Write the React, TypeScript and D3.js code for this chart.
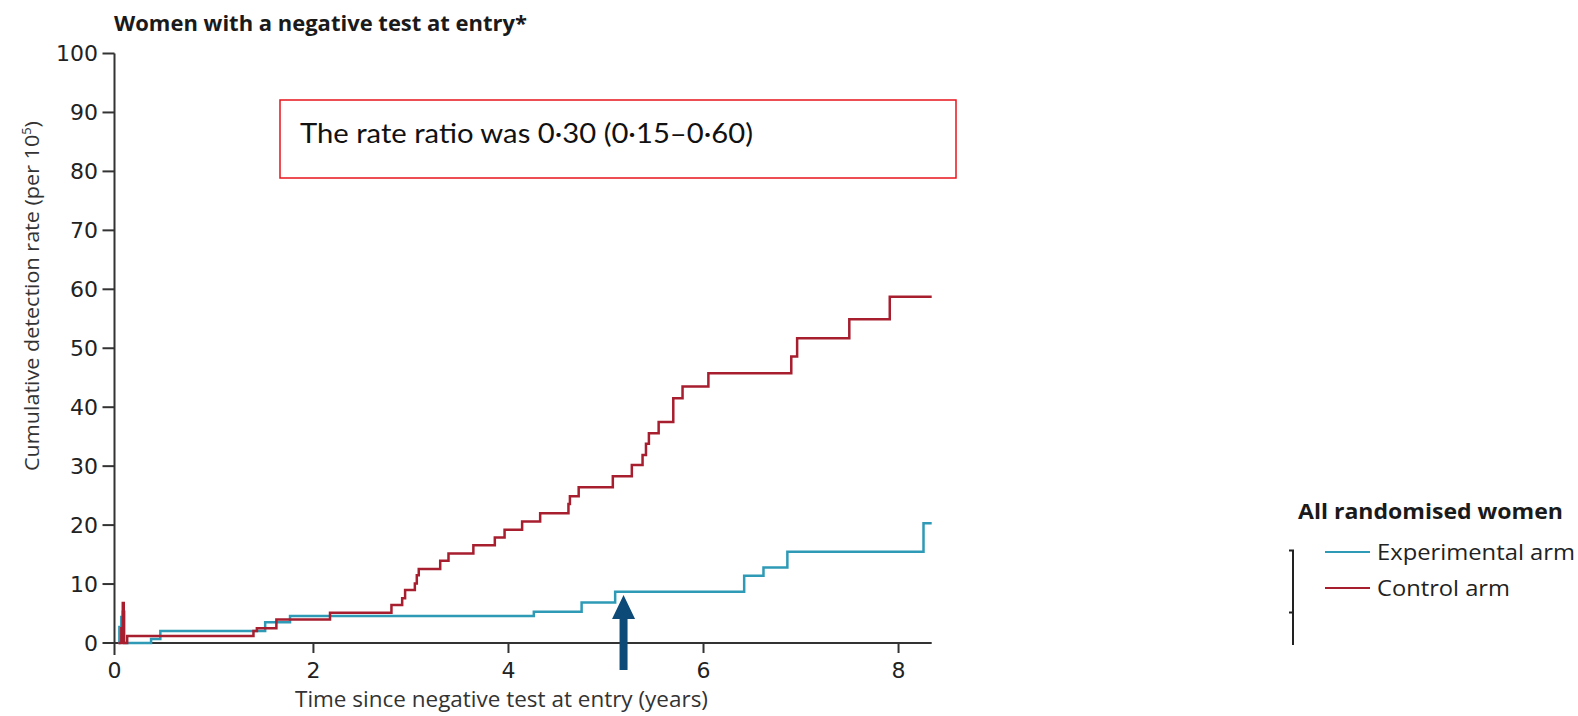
import React from 'react';
import * as d3 from 'd3';

// step curves: time (years) / cumulative rate per 10^5
const expTimes = [0, 0.01, 0.03, 0.045, 0.06, 0.335, 0.43, 1.505, 1.76, 4.26, 4.75, 5.094, 6.417, 6.615, 6.86, 8.256, 8.34];
const expValues = [0, 2.7, 4.4, 5.3, 0, 0.68, 2.04, 3.5, 4.6, 5.3, 6.85, 8.7, 11.4, 12.8, 15.5, 20.3, 20.3];

const ctrlTimes = [0, 0.03, 0.045, 0.055, 0.09, 1.385, 1.42, 1.62, 2.17, 2.8, 2.91, 2.94, 3.04, 3.06, 3.08, 3.3, 3.385, 3.64, 3.86, 3.96, 4.14, 4.325, 4.615, 4.63, 4.72, 5.07, 5.265, 5.375, 5.41, 5.44, 5.54, 5.69, 5.785, 6.05, 6.9, 6.96, 7.495, 7.91, 8.34];
const ctrlValues = [0, 2.5, 6.8, 0, 1.2, 2.04, 2.5, 4.0, 5.15, 6.45, 7.6, 9.0, 10.1, 11.5, 12.55, 13.96, 15.2, 16.6, 17.9, 19.2, 20.6, 22.0, 23.6, 24.9, 26.4, 28.3, 30.2, 31.9, 33.8, 35.6, 37.5, 41.5, 43.5, 45.75, 48.6, 51.7, 54.9, 58.75, 58.75];

const yTicks = [0, 10, 20, 30, 40, 50, 60, 70, 80, 90, 100];
const xTicks = [0, 2, 4, 6, 8];
const arrowAt = 5.18; // arrow marking the 5-year point

const seriesNames = ['Experimental arm', 'Control arm'];
const colors = ['#2e9ab6', '#a71e2e'];

const W = 1578;
const H = 716;

export default function App() {
  const x = d3.scaleLinear().domain([-0.04, 8.34]).range([114.5, 931.7]);
  const y = d3.scaleLinear().domain([0, 100]).range([643, 53.5]);

  const line = d3
    .line<[number, number]>()
    .x(d => x(d[0]))
    .y(d => y(d[1]))
    .curve(d3.curveStepAfter);

  const exp = expTimes.map((t, i) => [t, expValues[i]] as [number, number]);
  const ctrl = ctrlTimes.map((t, i) => [t, ctrlValues[i]] as [number, number]);

  const axisX = x.range()[0];
  const font = "'DejaVu Sans', sans-serif";
  const labelFont = "'Open Sans', sans-serif";
  const ax = x(arrowAt);

  return (
    <svg width={W} height={H} style={{position: 'absolute', left: 0, top: 0, background: '#fff'}} fontFamily={font}>
      <text x={114} y={31} fontSize={22} fontWeight={700} fill="#1a1a1a" fontFamily={labelFont}
        textLength={413} lengthAdjust="spacingAndGlyphs">
        Women with a negative test at entry*
      </text>

      {/* y axis */}
      <line x1={axisX} x2={axisX} y1={y(100)} y2={655} stroke="#333" strokeWidth={2} />
      {yTicks.map(t => (
        <g key={t}>
          <line x1={axisX - 12} x2={axisX} y1={y(t)} y2={y(t)} stroke="#333" strokeWidth={2} />
          <text x={98} y={y(t)} dy="0.36em" textAnchor="end" fontSize={22} fill="#222">
            {t}
          </text>
        </g>
      ))}
      <text transform="translate(39,296) rotate(-90)" textAnchor="middle" fontSize={20} fill="#333"
        fontFamily={labelFont} textLength={350} lengthAdjust="spacingAndGlyphs">
        Cumulative detection rate (per 10<tspan fontSize={12} dy={-8}>5</tspan><tspan dy={8}>)</tspan>
      </text>

      {/* x axis */}
      <line x1={axisX} x2={x.range()[1]} y1={y(0)} y2={y(0)} stroke="#333" strokeWidth={2} />
      {xTicks.map(t => (
        <g key={t}>
          {t > 0 && <line x1={x(t)} x2={x(t)} y1={y(0)} y2={y(0) + 10} stroke="#333" strokeWidth={2} />}
          <text x={t === 0 ? axisX : x(t)} y={678} textAnchor="middle" fontSize={22} fill="#222">
            {t}
          </text>
        </g>
      ))}
      <text x={295} y={707} fontSize={21} fill="#333" fontFamily={labelFont}
        textLength={413} lengthAdjust="spacingAndGlyphs">
        Time since negative test at entry (years)
      </text>

      {/* curves */}
      <path d={line(exp) || ''} fill="none" stroke={colors[0]} strokeWidth={2.5} />
      <path d={line(ctrl) || ''} fill="none" stroke={colors[1]} strokeWidth={2.5} />

      {/* annotation box */}
      <rect x={280} y={100} width={676} height={78} fill="none" stroke="#e8141b" strokeWidth={1.5} />
      <text x={300} y={143} fontSize={26} fill="#111" fontFamily="Lato, sans-serif"
        textLength={453} lengthAdjust="spacingAndGlyphs">
        The rate ratio was 0·30 (0·15–0·60)
      </text>

      {/* arrow */}
      <path
        d={`M${ax},595 L${ax + 11.5},619 L${ax + 4},619 L${ax + 4},670 L${ax - 4},670 L${ax - 4},619 L${ax - 11.5},619 Z`}
        fill="#0d4a78"
      />

      {/* legend */}
      <text x={1298} y={519} fontSize={21} fontWeight={700} fill="#1a1a1a" fontFamily={labelFont}
        textLength={265} lengthAdjust="spacingAndGlyphs">
        All randomised women
      </text>
      <path d="M1289,550.5 H1293 V645 M1289,612.5 H1293" fill="none" stroke="#222" strokeWidth={2} />
      {seriesNames.map((n, i) => (
        <g key={n}>
          <line x1={1325} x2={1370} y1={552 + i * 36} y2={552 + i * 36} stroke={colors[i]} strokeWidth={2} />
          <text x={1377} y={560 + i * 36} fontSize={22} fill="#222" fontFamily={labelFont}
            textLength={i === 0 ? 198 : 133} lengthAdjust="spacingAndGlyphs">
            {n}
          </text>
        </g>
      ))}
    </svg>
  );
}
